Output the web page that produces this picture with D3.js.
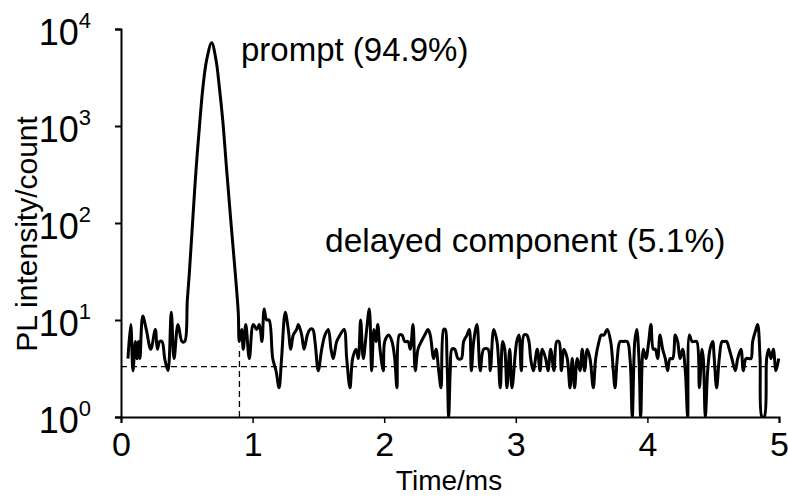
<!DOCTYPE html>
<html>
<head>
<meta charset="utf-8">
<script src="https://cdn.jsdelivr.net/npm/d3@7"></script>
<style>
  body { margin: 0; background: #fff; }
  text { font-family: "Liberation Sans", Arial, sans-serif; fill: #000; }
</style>
</head>
<body>
<div id="chart"></div>
<script>
// PL decay trace (time in ms, intensity in counts)
var timeMs = [
  0.053,0.074,0.091,0.109,0.122,0.134,0.144,0.165,0.192,0.226,0.261,0.276,0.294,0.312,0.332,0.357,0.382,0.403,0.433,0.464,0.484,
  0.504,0.519,0.545,0.570,0.600,0.623,0.651,0.689,0.722,0.747,0.773,0.803,0.834,0.866,0.891,
  0.899,0.917,0.929,0.948,0.975,1.005,1.031,1.051,1.071,1.088,1.107,1.125,1.153,1.178,1.201,1.220,1.248,1.271,1.290,1.309,
  1.335,1.348,1.373,1.391,1.416,1.436,1.457,1.474,1.499,1.525,1.550,1.575,1.596,1.613,1.639,1.664,1.695,1.715,1.740,1.760,
  1.786,1.803,1.821,1.841,1.867,1.887,1.905,1.922,1.938,1.951,1.968,1.993,
  2.004,2.034,2.059,2.080,2.097,2.115,2.135,2.156,2.181,2.198,2.219,2.236,2.257,2.282,2.308,2.333,2.350,2.376,2.394,2.414,
  2.432,2.452,2.464,2.477,2.490,2.502,2.515,2.536,2.561,2.586,2.604,2.629,2.647,2.662,2.680,2.705,2.730,2.756,2.789,2.806,
  2.832,2.857,2.882,2.900,2.916,2.933,2.954,2.971,
  3.007,3.024,3.042,3.062,3.083,3.100,3.113,3.133,3.163,3.184,3.201,3.227,3.245,3.265,3.290,3.311,3.328,3.346,3.366,3.391,
  3.412,3.429,3.447,3.467,3.488,3.505,3.523,3.543,3.564,3.589,3.607,3.632,3.649,3.670,3.695,3.721,3.741,3.754,3.771,3.792,
  3.817,3.847,3.868,3.885,3.904,3.919,3.936,3.949,3.969,
  3.989,4.010,4.027,4.045,4.060,4.078,4.096,4.116,4.136,4.154,4.172,4.192,4.212,4.230,4.248,4.268,4.288,4.306,4.319,4.339,
  4.357,4.375,4.395,4.415,4.425,4.440,4.458,4.476,4.496,4.508,4.526,4.546,4.567,4.584,4.602,4.622,4.642,4.668,4.686,4.711,
  4.729,4.749,4.770,4.787,4.800,4.825,4.838,4.856,4.871,4.888,4.906,4.921,4.939,4.957,4.977,4.998
];
var counts = [
  4,9,3,6,4,6,4,11,8,5,8,5,6,6,4,3,12,4,9,6,6,
  16,30,107,350,1150,2540,4800,7200,4800,2540,1150,350,107,33,12,
  6,8,5,9,4,9,8,9,6,13,10,10,4,3,2,4,12,8,5,7,
  8,9,7,5,7,8,8,6,3,5,7,8,5,4,6,7,8,4,2,4,
  5,4,10,4,8,13,3,8,6,9,5,3,
  6,7,6,4,2,7,7,6,6,5,9,3,5,6,7,8,7,4,5,3,
  2,8,8,4,1,3,5,5,4,4,6,7,8,3,6,9,3,5,5,3,
  8,6,2,6,5,2,5,2,
  6,7,3,7,7,6,4,3,5,3,5,4,3,5,3,6,6,3,5,4,
  2,4,2,4,3,5,3,5,4,2,4,6,7,7,8,6,3,2,4,6,
  6,6,4,1,6,8,4,1,5,
  4,6,9,5,5,4,7,5,4,3,4,4,7,6,4,5,3,1,7,6,
  6,6,2,5,4,1,3,5,6,4,2,4,6,6,6,5,4,3,4,5,
  3,4,4,4,6,8,9,4,1,1,4,5,4,5,3,4
];
var xTicks = [0, 1, 2, 3, 4, 5];
var yTicks = [1, 10, 100, 1000, 10000];
var backgroundLevel = 3.3;   // dashed horizontal line
var cutTime = 0.9;           // dashed vertical line
var cutTop = 5.3;

var data = timeMs.map(function(t, i) { return { t: t, v: counts[i] }; });

var W = 788, H = 498;
var m = { left: 121, right: 9, top: 29, bottom: 81 };

var svg = d3.select("#chart").append("svg")
  .attr("width", W)
  .attr("height", H);

var x = d3.scaleLinear().domain([0, 5]).range([m.left, W - m.right]);
var y = d3.scaleLog().domain([1, 10000]).range([H - m.bottom, m.top]);

svg.append("clipPath").attr("id", "plotclip")
  .append("rect")
  .attr("x", m.left).attr("y", m.top - 5)
  .attr("width", W - m.left - m.right + 5)
  .attr("height", H - m.bottom - m.top + 6);

// dashed guide lines
svg.append("line")
  .attr("x1", x(0)).attr("x2", x(5))
  .attr("y1", y(backgroundLevel)).attr("y2", y(backgroundLevel))
  .attr("stroke", "#000").attr("stroke-width", 1.3)
  .attr("stroke-dasharray", "6,4");

svg.append("line")
  .attr("x1", x(cutTime)).attr("x2", x(cutTime))
  .attr("y1", y(1)).attr("y2", y(cutTop))
  .attr("stroke", "#000").attr("stroke-width", 1.3)
  .attr("stroke-dasharray", "6,4");

// trace
var line = d3.line()
  .x(function(d) { return x(d.t); })
  .y(function(d) { return y(d.v); })
  .curve(d3.curveCatmullRom.alpha(0.5));

svg.append("path")
  .datum(data)
  .attr("clip-path", "url(#plotclip)")
  .attr("fill", "none")
  .attr("stroke", "#000")
  .attr("stroke-width", 3)
  .attr("stroke-linejoin", "round")
  .attr("d", line);

// axes
var xAxis = d3.axisBottom(x).tickValues(xTicks).tickSize(6).tickPadding(9)
  .tickFormat(d3.format("d"));
svg.append("g")
  .attr("class", "x-axis")
  .attr("transform", "translate(0," + y(1) + ")")
  .call(xAxis)
  .call(function(g) {
    g.select(".domain").attr("stroke-width", 2);
    g.selectAll(".tick line").attr("stroke-width", 1.5);
    g.selectAll(".tick text").attr("font-size", 34).attr("font-family", "Liberation Sans, Arial, sans-serif");
  });

var yAxis = d3.axisLeft(y).tickValues(yTicks).tickSize(6).tickPadding(8);
svg.append("g")
  .attr("class", "y-axis")
  .attr("transform", "translate(" + x(0) + ",0)")
  .call(yAxis)
  .call(function(g) {
    g.select(".domain").attr("stroke-width", 2);
    g.selectAll(".tick line").attr("stroke-width", 2);
    g.selectAll(".tick text").each(function(d) {
      var t = d3.select(this);
      t.text(null)
        .attr("font-family", "Liberation Sans, Arial, sans-serif")
        .attr("font-size", 36)
        .attr("dy", "0.42em")
        .attr("x", -30);
      t.append("tspan").text("10");
      t.append("tspan")
        .attr("font-size", 22)
        .attr("dy", "-0.75em")
        .text(Math.round(Math.log10(d)));
    });
  });

// axis titles
svg.append("text")
  .attr("x", (x(0) + x(5)) / 2 - 1)
  .attr("y", 490)
  .attr("text-anchor", "middle")
  .attr("font-size", 28)
  .text("Time/ms");

svg.append("text")
  .attr("transform", "translate(37,234) rotate(-90)")
  .attr("text-anchor", "middle")
  .attr("font-size", 30)
  .text("PL intensity/count");

// annotations
svg.append("text")
  .attr("x", 241).attr("y", 61)
  .attr("font-size", 33)
  .text("prompt (94.9%)");

svg.append("text")
  .attr("x", 325).attr("y", 252)
  .attr("font-size", 33.5)
  .text("delayed component (5.1%)");
</script>
</body>
</html>
